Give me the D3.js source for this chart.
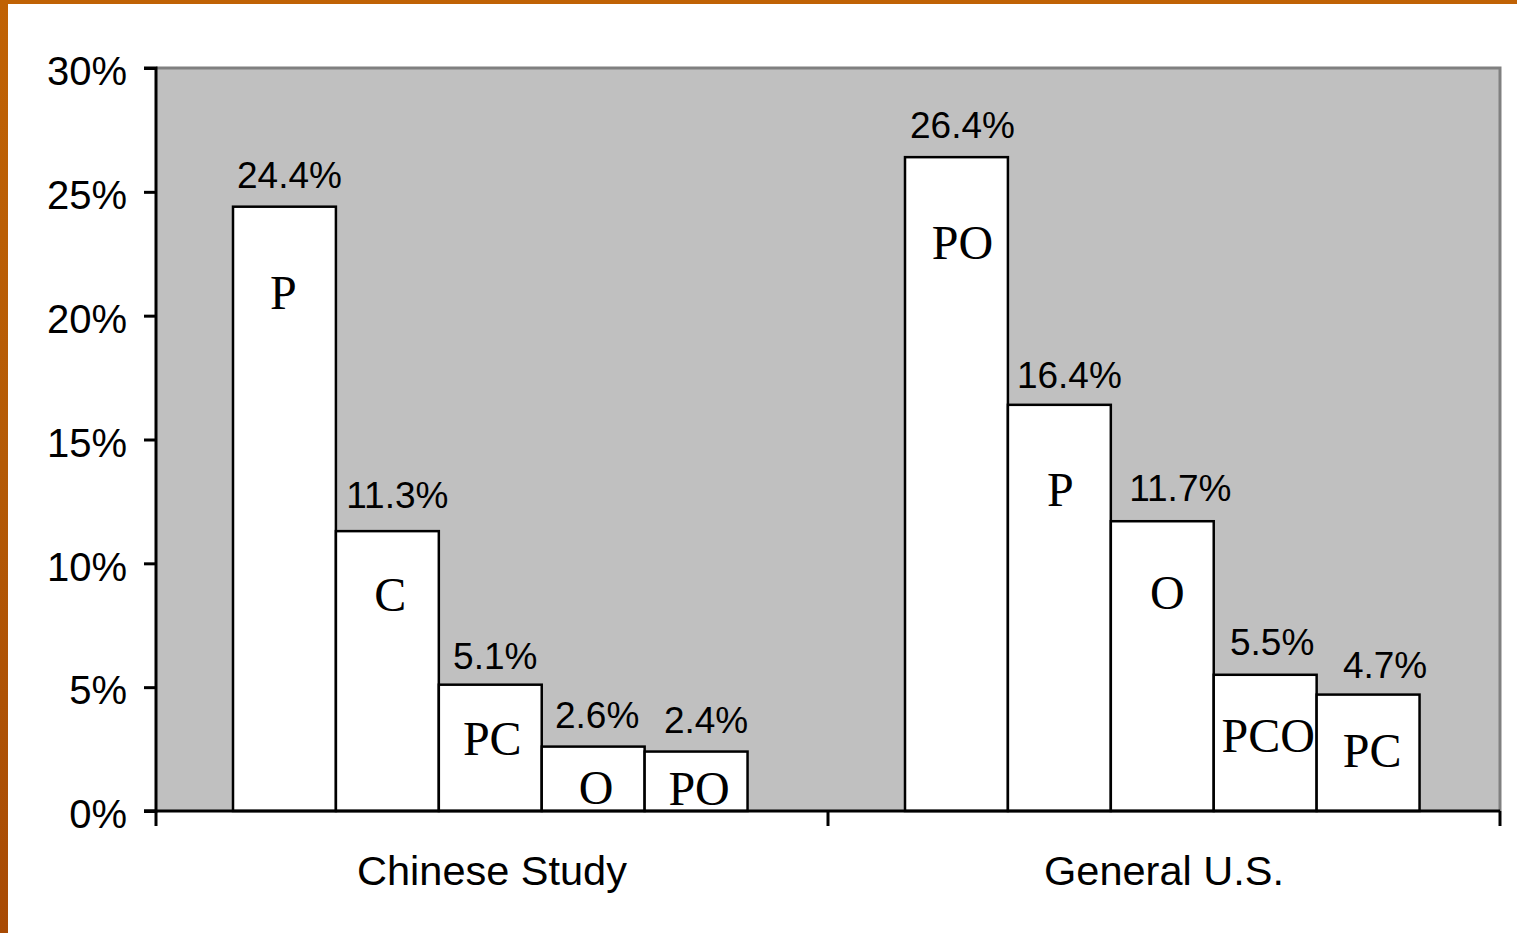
<!DOCTYPE html>
<html>
<head>
<meta charset="utf-8">
<script src="https://cdn.jsdelivr.net/npm/d3@7"></script>
<style>
  html, body { margin: 0; padding: 0; background: #ba5d04; overflow: hidden; }
  svg { display: block; }
</style>
</head>
<body>
<script>
// Groups compared and the share of each pattern within them
const groups = ["Chinese Study", "General U.S."];
const chineseCodes = ["P", "C", "PC", "O", "PO"];
const chineseValues = [24.4, 11.3, 5.1, 2.6, 2.4];
const usCodes = ["PO", "P", "O", "PCO", "PC"];
const usValues = [26.4, 16.4, 11.7, 5.5, 4.7];
const yTicks = [0, 5, 10, 15, 20, 25, 30];

const W = 1517, H = 933;
const svg = d3.select("body").append("svg").attr("width", W).attr("height", H);

// slide frame: orange edge with white panel
const bg = svg.append("defs").append("linearGradient").attr("id", "frame")
  .attr("x1", 0).attr("y1", 0).attr("x2", 0).attr("y2", 1);
bg.append("stop").attr("offset", 0).attr("stop-color", "#c06204");
bg.append("stop").attr("offset", 0.5).attr("stop-color", "#b45a06");
bg.append("stop").attr("offset", 1).attr("stop-color", "#a84a04");
svg.append("rect").attr("width", W).attr("height", H).attr("fill", "url(#frame)");
svg.append("rect").attr("x", 8).attr("y", 4).attr("width", W - 8).attr("height", H - 4).attr("fill", "#ffffff");

const plot = { left: 156, top: 68, right: 1500, bottom: 811 };

const x0 = d3.scaleBand().domain(groups).range([plot.left, plot.right]).padding(0);
const y = d3.scaleLinear().domain([0, 30]).range([plot.bottom, plot.top]);

const data = [
  { group: groups[0], codes: chineseCodes, values: chineseValues },
  { group: groups[1], codes: usCodes, values: usValues }
];

// hand-placed label nudges (pixels) for each bar, per group
const valueShiftX = [[5, 10, 5, 4, 10], [6, 10, 18, 7, 17]];
const valueLift = [[19, 23, 16, 19, 19], [19, 17, 20, 20, 17]];
const codeShiftX = [[-1, 3, 2, 3, 3], [6, 1, 5, 3, 4]];
const codeDrop = [[86, 64, 54, 41, 37], [86, 85, 72, 61, 56]];

// plot area
svg.append("rect")
  .attr("x", plot.left).attr("y", plot.top)
  .attr("width", plot.right - plot.left).attr("height", plot.bottom - plot.top)
  .attr("fill", "#c0c0c0");
svg.append("path")
  .attr("d", `M${plot.left},${plot.top}H${plot.right}V${plot.bottom}`)
  .attr("fill", "none").attr("stroke", "#808080").attr("stroke-width", 3);

// bars: 5 per group, remaining space split on both sides
data.forEach((g, gi) => {
  const band = x0.bandwidth();
  const bw = band / 6.53;
  const start = x0(g.group) + 77;
  const x1 = d3.scaleBand().domain(d3.range(g.values.length))
    .range([start, start + bw * g.values.length]).padding(0);
  const gg = svg.append("g");
  gg.selectAll("rect").data(g.values).join("rect")
    .attr("x", (d, i) => x1(i))
    .attr("y", d => y(d))
    .attr("width", x1.bandwidth())
    .attr("height", d => y(0) - y(d))
    .attr("fill", "#ffffff")
    .attr("stroke", "#000000")
    .attr("stroke-width", 2.5);

  gg.selectAll("text.val").data(g.values).join("text")
    .attr("class", "val")
    .attr("x", (d, i) => x1(i) + x1.bandwidth() / 2 + valueShiftX[gi][i])
    .attr("y", (d, i) => y(d) - valueLift[gi][i])
    .attr("text-anchor", "middle")
    .attr("font-family", "Liberation Sans, Arial, sans-serif")
    .attr("font-size", 37)
    .attr("fill", "#000")
    .text(d => d3.format(".1f")(d) + "%");

  // pattern code inside each bar, set below the bar top
  gg.selectAll("text.code").data(g.values).join("text")
    .attr("class", "code")
    .attr("x", (d, i) => x1(i) + x1.bandwidth() / 2 + codeShiftX[gi][i])
    .attr("y", (d, i) => y(d) + codeDrop[gi][i] + 16)
    .attr("text-anchor", "middle")
    .attr("font-family", "Liberation Serif, Times New Roman, serif")
    .attr("font-size", 48)
    .attr("fill", "#000")
    .text((d, i) => g.codes[i]);
});

// y axis
const yAxis = svg.append("g").attr("transform", `translate(${plot.left},0)`)
  .call(d3.axisLeft(y).tickValues(yTicks).tickSize(12).tickPadding(17).tickFormat(d => d + "%"));
yAxis.select(".domain").attr("stroke", "#000").attr("stroke-width", 3)
  .attr("d", `M-12,${plot.top}H0V${plot.bottom}H-12`);
yAxis.selectAll(".tick line").attr("stroke", "#000").attr("stroke-width", 3);
yAxis.selectAll(".tick text")
  .attr("font-family", "Liberation Sans, Arial, sans-serif")
  .attr("font-size", 40).attr("fill", "#000")
  .attr("dy", "0.42em");

// x axis with boundary ticks between groups
const xAxis = svg.append("g").attr("transform", `translate(0,${plot.bottom})`);
xAxis.append("line").attr("x1", plot.left - 12).attr("x2", plot.right)
  .attr("stroke", "#000").attr("stroke-width", 3);
const bounds = [plot.left, ...groups.map(gname => x0(gname) + x0.bandwidth())];
xAxis.selectAll("line.tk").data(bounds).join("line").attr("class", "tk")
  .attr("x1", d => d).attr("x2", d => d).attr("y1", 0).attr("y2", 15)
  .attr("stroke", "#000").attr("stroke-width", 3);
xAxis.selectAll("text").data(groups).join("text")
  .attr("x", d => x0(d) + x0.bandwidth() / 2)
  .attr("y", 74)
  .attr("text-anchor", "middle")
  .attr("font-family", "Liberation Sans, Arial, sans-serif")
  .attr("font-size", 41.5)
  .attr("fill", "#000")
  .text(d => d);
</script>
</body>
</html>
